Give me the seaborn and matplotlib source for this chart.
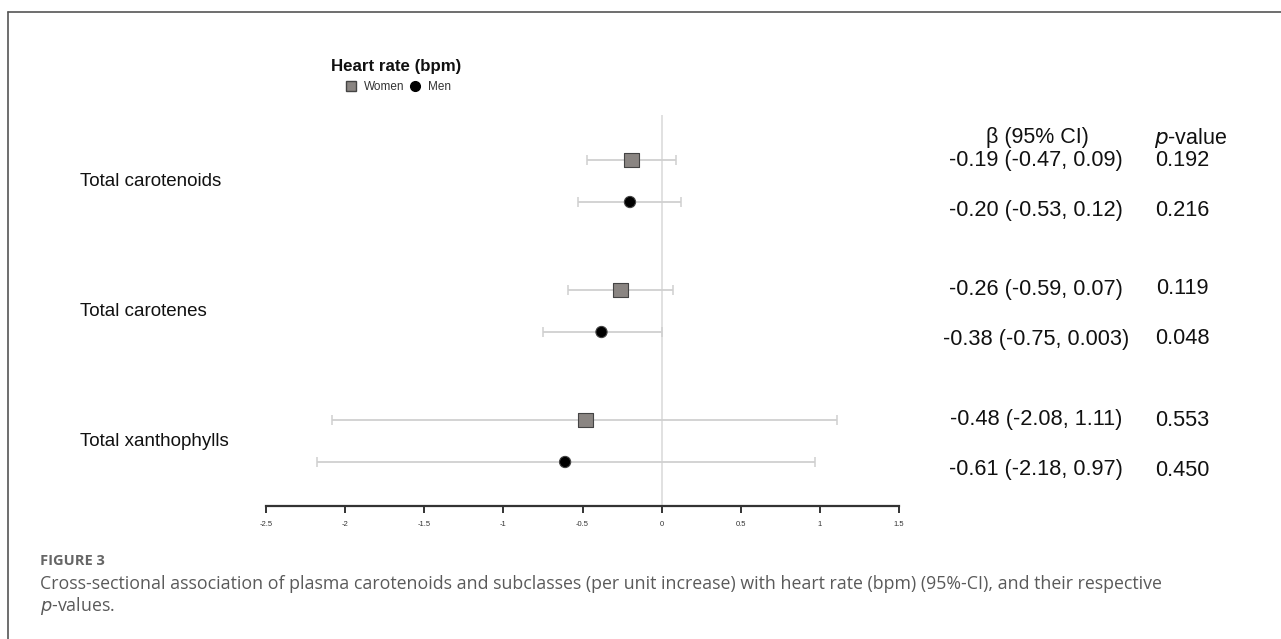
import matplotlib
matplotlib.use("Agg")
import matplotlib.pyplot as plt
import matplotlib.transforms as mtransforms
import seaborn as sns
import pandas as pd
from matplotlib.lines import Line2D

# Forest plot data: heart rate (bpm) per unit increase in plasma carotenoids
exposures = ["Total carotenoids", "Total carotenes", "Total xanthophylls"]
sexes = ["Women", "Men"]
women_beta = [-0.19, -0.26, -0.48]
women_lo = [-0.47, -0.59, -2.08]
women_hi = [0.09, 0.07, 1.11]
women_p = ["0.192", "0.119", "0.553"]
men_beta = [-0.20, -0.38, -0.61]
men_lo = [-0.53, -0.75, -2.18]
men_hi = [0.12, 0.003, 0.97]
men_p = ["0.216", "0.048", "0.450"]
women_ci_text = ["-0.19 (-0.47, 0.09)", "-0.26 (-0.59, 0.07)", "-0.48 (-2.08, 1.11)"]
men_ci_text = ["-0.20 (-0.53, 0.12)", "-0.38 (-0.75, 0.003)", "-0.61 (-2.18, 0.97)"]
x_ticks = [-2.5, -2, -1.5, -1, -0.5, 0, 0.5, 1, 1.5]
x_ticklabels = ["-2.5", "-2", "-1.5", "-1", "-0.5", "0", "0.5", "1", "1.5"]

offset = 0.1615
rows = []
for i, name in enumerate(exposures):
    rows.append(dict(exposure=name, sex="Women", beta=women_beta[i], lo=women_lo[i],
                     hi=women_hi[i], y=i - offset, ci=women_ci_text[i], p=women_p[i]))
    rows.append(dict(exposure=name, sex="Men", beta=men_beta[i], lo=men_lo[i],
                     hi=men_hi[i], y=i + offset, ci=men_ci_text[i], p=men_p[i]))
df = pd.DataFrame(rows)

sns.set_style("white")
plt.rcParams["font.family"] = ["Liberation Sans", "DejaVu Sans"]

W, H = 1281, 639
fig = plt.figure(figsize=(W / 100, H / 100), dpi=100)
fig.patch.set_facecolor("white")


def fx(px):
    return px / W


def fy(py):
    return 1 - py / H


ax = fig.add_axes([fx(266), fy(506), fx(899) - fx(266), fy(115) - fy(506)])
ax.set_xlim(-2.5, 1.5)
ax.set_ylim(2.5, -0.508)

# reference line at zero
ax.axvline(0, color="#dcdcdc", lw=1.2, zorder=0)

# confidence intervals
ax.errorbar(df["beta"], df["y"],
            xerr=[df["beta"] - df["lo"], df["hi"] - df["beta"]],
            fmt="none", ecolor="#d0d0d0", elinewidth=1.3, capsize=3.5, capthick=1.1, zorder=1)

# point estimates
sns.scatterplot(data=df, x="beta", y="y", hue="sex", style="sex",
                hue_order=sexes, style_order=sexes,
                palette={"Women": "#8a8582", "Men": "#000000"},
                markers={"Women": "s", "Men": "o"},
                size="sex", sizes={"Women": 115, "Men": 65},
                edgecolor="#444444", linewidth=0.8, legend=False, ax=ax, zorder=3)

sns.despine(ax=ax, left=True, top=True, right=True)
ax.spines["bottom"].set_color("#333333")
ax.spines["bottom"].set_linewidth(1.6)
ax.set_yticks([])
ax.set_xticks(x_ticks)
ax.set_xticklabels(x_ticklabels, fontsize=5.5, color="#333333")
ax.tick_params(axis="x", direction="out", length=5, width=1.4, color="#333333", pad=6,
               bottom=True)
ax.set_xlabel("")
ax.set_ylabel("")

# row labels at the group centres
btr = mtransforms.blended_transform_factory(fig.transFigure, ax.transData)
for i, name in enumerate(exposures):
    ax.text(fx(80), i, name, transform=btr, fontsize=13.5, color="#111111",
            va="center", ha="left")

# estimate and p-value table, rows spaced more widely than the markers
table_y = [160, 210, 289, 339, 420, 470]
for (_, r), ty in zip(df.iterrows(), table_y):
    fig.text(fx(1036), fy(ty), r["ci"], fontsize=15.7, color="#111111",
             va="center", ha="center")
    fig.text(fx(1182), fy(ty), r["p"], fontsize=15.7, color="#111111",
             va="center", ha="center")
fig.text(fx(1037), fy(138), "β (95% CI)", fontsize=15.5, color="#111111", ha="center", va="center")
fig.text(fx(1191), fy(138), "$\\it{p}$-value", fontsize=15.5, color="#111111", ha="center", va="center")

# title and legend
fig.text(fx(396), fy(67), "Heart rate (bpm)", fontsize=12.2, fontweight="bold",
         color="#111111", ha="center", va="center")
handles = [Line2D([], [], marker="s", ls="none", color="#8a8582", markeredgecolor="#444444",
                  markersize=7, label="Women"),
           Line2D([], [], marker="o", ls="none", color="#000000", markersize=7, label="Men")]
fig.legend(handles=handles, loc="center", bbox_to_anchor=(fx(398), fy(87)), ncol=2,
           frameon=False, fontsize=8.5, handlelength=1.0, handletextpad=0.6,
           columnspacing=0.4, labelcolor="#333333")

# frame lines and caption
fig.add_artist(Line2D([fx(8), 1], [fy(12), fy(12)], color="#555555", lw=1.2))
fig.add_artist(Line2D([fx(8), fx(8)], [fy(12), 0], color="#555555", lw=1.2))
cap_font = ["Open Sans", "DejaVu Sans"]
fig.text(fx(40), fy(561), "FIGURE 3", fontsize=10.5, fontweight="bold", color="#666666",
         family=cap_font, ha="left", va="center")
fig.text(fx(40), fy(584),
         "Cross-sectional association of plasma carotenoids and subclasses (per unit increase) "
         "with heart rate (bpm) (95%-CI), and their respective",
         fontsize=12.8, color="#5a5a5a", family=cap_font, ha="left", va="center")
fig.text(fx(40), fy(606), "$\\it{p}$-values.", fontsize=12.8, color="#5a5a5a",
         family=cap_font, ha="left", va="center")

fig.savefig("out.png", dpi=100, facecolor="white")
